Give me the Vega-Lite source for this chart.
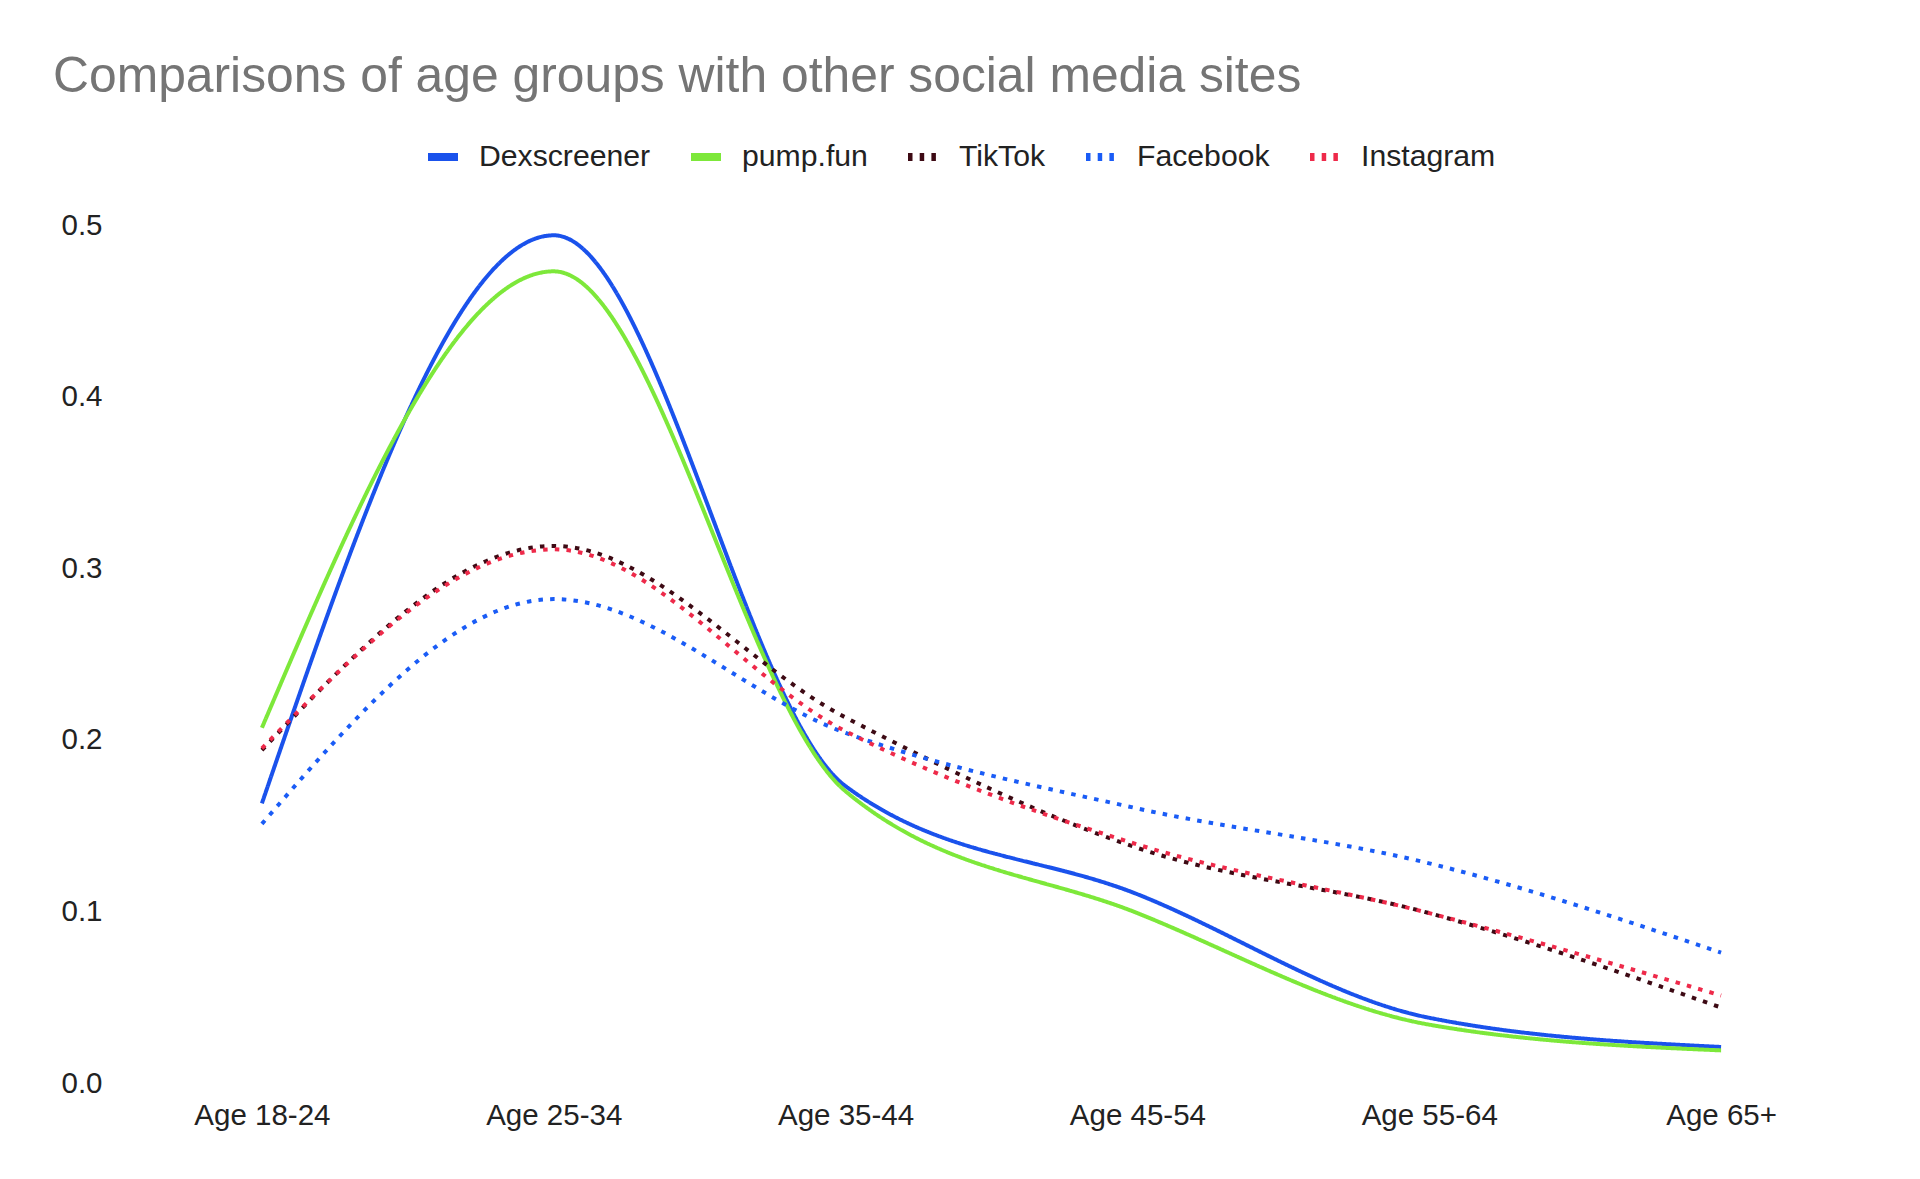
{
  "$schema": "https://vega.github.io/schema/vega-lite/v6.json",
  "width": 1751,
  "height": 858,
  "autosize": {"type": "none"},
  "padding": {"left": 116, "top": 225, "right": 53, "bottom": 96},
  "background": "white",
  "title": {
    "text": "Comparisons of age groups with other social media sites",
    "anchor": "start",
    "frame": "group",
    "dx": -63,
    "offset": -4,
    "baseline": "alphabetic",
    "font": "Liberation Sans",
    "fontSize": 49.8,
    "fontWeight": "normal",
    "color": "#757575"
  },
  "config": {
    "view": {"stroke": null},
    "font": "Liberation Sans"
  },
  "data": {
    "values": [
      {"site": "Dexscreener", "age": "Age 18-24", "share": 0.163},
      {"site": "Dexscreener", "age": "Age 25-34", "share": 0.494},
      {"site": "Dexscreener", "age": "Age 35-44", "share": 0.173},
      {"site": "Dexscreener", "age": "Age 45-54", "share": 0.110},
      {"site": "Dexscreener", "age": "Age 55-64", "share": 0.038},
      {"site": "Dexscreener", "age": "Age 65+", "share": 0.021},
      {"site": "pump.fun", "age": "Age 18-24", "share": 0.207},
      {"site": "pump.fun", "age": "Age 25-34", "share": 0.473},
      {"site": "pump.fun", "age": "Age 35-44", "share": 0.170},
      {"site": "pump.fun", "age": "Age 45-54", "share": 0.099},
      {"site": "pump.fun", "age": "Age 55-64", "share": 0.034},
      {"site": "pump.fun", "age": "Age 65+", "share": 0.019},
      {"site": "TikTok", "age": "Age 18-24", "share": 0.194},
      {"site": "TikTok", "age": "Age 25-34", "share": 0.313},
      {"site": "TikTok", "age": "Age 35-44", "share": 0.213},
      {"site": "TikTok", "age": "Age 45-54", "share": 0.137},
      {"site": "TikTok", "age": "Age 55-64", "share": 0.099},
      {"site": "TikTok", "age": "Age 65+", "share": 0.044},
      {"site": "Facebook", "age": "Age 18-24", "share": 0.151},
      {"site": "Facebook", "age": "Age 25-34", "share": 0.282},
      {"site": "Facebook", "age": "Age 35-44", "share": 0.204},
      {"site": "Facebook", "age": "Age 45-54", "share": 0.160},
      {"site": "Facebook", "age": "Age 55-64", "share": 0.128},
      {"site": "Facebook", "age": "Age 65+", "share": 0.076},
      {"site": "Instagram", "age": "Age 18-24", "share": 0.195},
      {"site": "Instagram", "age": "Age 25-34", "share": 0.311},
      {"site": "Instagram", "age": "Age 35-44", "share": 0.205},
      {"site": "Instagram", "age": "Age 45-54", "share": 0.139},
      {"site": "Instagram", "age": "Age 55-64", "share": 0.099},
      {"site": "Instagram", "age": "Age 65+", "share": 0.051}
    ]
  },
  "mark": {"type": "line", "interpolate": "monotone", "strokeWidth": 4, "strokeCap": "butt"},
  "encoding": {
    "x": {
      "field": "age",
      "type": "ordinal",
      "scale": {"type": "point", "padding": 0.5},
      "sort": null,
      "axis": {
        "title": null,
        "labelAngle": 0,
        "domain": false,
        "ticks": false,
        "tickSize": 0,
        "grid": false,
        "labelPadding": 18,
        "labelFont": "Liberation Sans",
        "labelFontSize": 29.5,
        "labelColor": "#222222"
      }
    },
    "y": {
      "field": "share",
      "type": "quantitative",
      "scale": {"domain": [0, 0.5], "nice": false},
      "axis": {
        "title": null,
        "values": [0, 0.1, 0.2, 0.3, 0.4, 0.5],
        "format": ".1f",
        "domain": false,
        "ticks": false,
        "tickSize": 0,
        "grid": false,
        "labelPadding": 14,
        "labelFont": "Liberation Sans",
        "labelFontSize": 29.5,
        "labelColor": "#222222"
      }
    },
    "color": {
      "field": "site",
      "type": "nominal",
      "scale": {
        "domain": ["Dexscreener", "pump.fun", "TikTok", "Facebook", "Instagram"],
        "range": ["#1A52EC", "#7DE83A", "#3D0A14", "#1A5CF6", "#EE2A4A"]
      },
      "legend": {
        "title": null,
        "orient": "none",
        "direction": "horizontal",
        "legendX": 308,
        "legendY": -87,
        "padding": 0,
        "symbolType": "stroke",
        "symbolSize": 900,
        "symbolStrokeWidth": 8,
        "labelFont": "Liberation Sans",
        "labelFontSize": 30.2,
        "labelColor": "#222222",
        "labelLimit": 500,
        "labelOffset": 17,
        "columnPadding": 24
      }
    },
    "strokeDash": {
      "field": "site",
      "type": "nominal",
      "scale": {
        "domain": ["Dexscreener", "pump.fun", "TikTok", "Facebook", "Instagram"],
        "range": [[1, 0], [1, 0], [4.5, 7.2], [4.5, 7.2], [4.5, 7.2]]
      },
      "legend": null
    }
  }
}
